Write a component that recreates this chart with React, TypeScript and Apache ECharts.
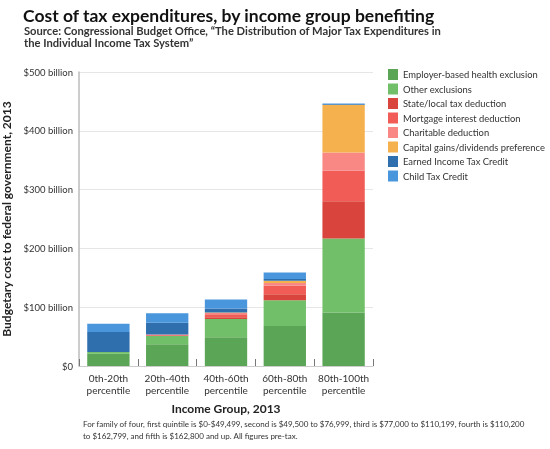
import React, { useEffect, useRef } from "react";
import * as echarts from "echarts";

const categories = ["0th-20th\npercentile", "20th-40th\npercentile", "40th-60th\npercentile", "60th-80th\npercentile", "80th-100th\npercentile"];
const yTicks = [0, 100, 200, 300, 400, 500];

const seriesNames = [
  "Employer-based health exclusion",
  "Other exclusions",
  "State/local tax deduction",
  "Mortgage interest deduction",
  "Charitable deduction",
  "Capital gains/dividends preference",
  "Earned Income Tax Credit",
  "Child Tax Credit",
];
const employerHealth = [21, 37, 49, 68, 91];
const otherExclusions = [3, 14, 31, 44, 126];
const stateLocal = [0, 1, 3, 10, 63];
const mortgageInterest = [0, 1, 5, 15, 52];
const charitable = [0, 0.5, 2, 4, 31];
const capitalGains = [0, 0, 1, 4, 81];
const eitc = [34, 20, 7, 3, 1];
const childTaxCredit = [14, 16, 15, 11, 1.5];

const seriesValues = [employerHealth, otherExclusions, stateLocal, mortgageInterest, charitable, capitalGains, eitc, childTaxCredit];
const seriesColors = ["#5ba556", "#72bf6a", "#d9443c", "#f15c56", "#f98884", "#f6b14f", "#2f6fae", "#4a96dc"];

const FONT = "Lato, 'Open Sans', sans-serif";

export default function App() {
  const ref = useRef<HTMLDivElement>(null);
  useEffect(() => {
    if (!ref.current) return;
    const chart = echarts.init(ref.current, null, { renderer: "svg" });
    chart.setOption({
      animation: false,
      textStyle: { fontFamily: FONT },
      graphic: [
        {
          type: "text",
          left: 23,
          top: 6,
          style: { text: "Cost of tax expenditures, by income group benefiting", font: `bold 17.5px ${FONT}`, fill: "#111" },
        },
        {
          type: "text",
          left: 24,
          top: 25,
          style: {
            text: "Source: Congressional Budget Office, \u201CThe Distribution of Major Tax Expenditures in\nthe Individual Income Tax System\u201D",
            font: `bold 11.2px ${FONT}`,
            lineHeight: 11.5,
            fill: "#333",
          },
        },
        {
          type: "text",
          left: 83,
          top: 418,
          style: {
            text: "For family of four, first quintile is $0-$49,499, second is $49,500 to $76,999, third is $77,000 to $110,199, fourth is $110,200\nto $162,799, and fifth is $162,800 and up. All figures pre-tax.",
            font: `8px ${FONT}`,
            lineHeight: 12,
            fill: "#333",
          },
        },
      ],
      legend: {
        orient: "vertical",
        left: 383,
        top: 64,
        itemWidth: 10,
        itemHeight: 11,
        itemGap: 3.5,
        icon: "rect",
        data: seriesNames,
        textStyle: { fontSize: 9.4, color: "#333", fontFamily: FONT },
      },
      grid: { left: 79, right: 177, top: 72, bottom: 83, outerBoundsMode: "none", containLabel: false },
      xAxis: {
        type: "category",
        data: categories,
        name: "Income Group, 2013",
        nameLocation: "middle",
        nameGap: 36,
        nameTextStyle: { fontSize: 12, fontWeight: "bold", color: "#222", fontFamily: FONT },
        axisLine: { show: true, lineStyle: { color: "#ccc" } },
        axisTick: { show: true, inside: true, length: 7, lineStyle: { color: "#777" } },
        axisLabel: { interval: 0, fontSize: 10, color: "#333", margin: 6, lineHeight: 12, fontFamily: FONT },
      },
      yAxis: {
        type: "value",
        min: 0,
        max: 500,
        interval: 100,
        name: "Budgetary cost to federal government, 2013",
        nameLocation: "middle",
        nameGap: 62,
        nameTextStyle: { fontSize: 12, fontWeight: "bold", color: "#222", fontFamily: FONT },
        axisLine: { show: true, lineStyle: { color: "#bbb", width: 1.5 } },
        axisTick: { show: false },
        splitLine: { lineStyle: { color: "#e6e6e6" } },
        axisLabel: {
          fontSize: 9.5,
          color: "#333",
          margin: 6,
          fontFamily: FONT,
          formatter: (v: number) => (yTicks.includes(v) && v === 0 ? "$0" : `$${v} billion`),
        },
      },
      series: seriesNames.map((name, i) => ({
        name,
        type: "bar",
        stack: "total",
        barCategoryGap: "28%",
        data: seriesValues[i],
        itemStyle: { color: seriesColors[i] },
      })),
    });
    return () => chart.dispose();
  }, []);
  return <div ref={ref} style={{ position: "fixed", left: 0, top: 0, width: 550, height: 449 }} />;
}
